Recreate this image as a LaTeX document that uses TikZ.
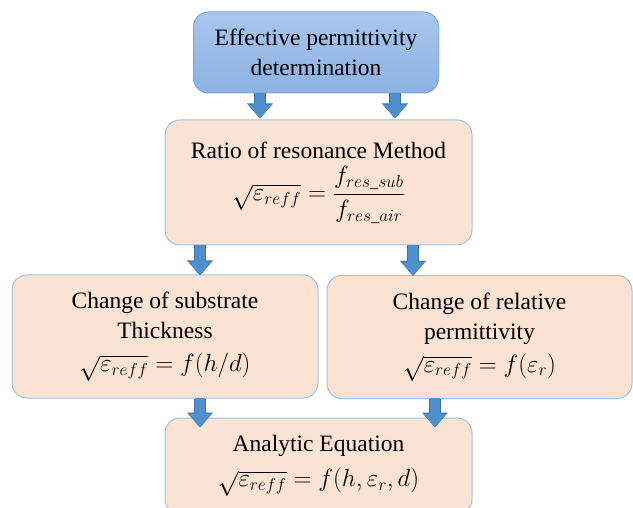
\documentclass[tikz,border=0pt]{standalone}
\usepackage{amsmath}
\usepackage{fontspec}
\setmainfont{Liberation Serif}
\usetikzlibrary{arrows.meta,calc}
\definecolor{peachfill}{HTML}{FBE3D4}
\definecolor{boxline}{HTML}{9DC3E6}
\definecolor{bluetop}{HTML}{A9C6EE}
\definecolor{bluebot}{HTML}{8CB2E2}
\definecolor{blueline}{HTML}{7EA6D9}
\definecolor{arrowfill}{HTML}{4E8FD0}
\definecolor{arrowline}{HTML}{41719C}
\tikzset{
  basebox/.style={rounded corners=15pt, line width=1pt, align=center, inner sep=0pt,
    font=\fontsize{23.5}{30}\selectfont},
  bluebox/.style={basebox, draw=blueline, top color=bluetop, bottom color=bluebot},
  peachbox/.style={basebox, draw=boxline, fill=peachfill},
  blockarrowout/.style={line width=11.5pt, arrowline, -{Triangle[width=25pt,length=15pt]}},
  blockarrow/.style={line width=10pt, arrowfill, -{Triangle[width=23pt,length=14pt]}},
}
\begin{document}
\begin{tikzpicture}[x=1pt,y=-1pt]
\useasboundingbox (0,0) rectangle (633,508);
\clip (0,0) rectangle (633,508);
\node[bluebox, minimum width=245pt, minimum height=81pt] (top) at (316,52.5)
  {Effective permittivity\\determination};
\node[peachbox, minimum width=307pt, minimum height=125pt] (ratio) at (318.5,182.5)
  {Ratio of resonance Method\\[7pt]
   $\sqrt{\varepsilon_{reff}}=\dfrac{f_{res\_sub}}{f_{res\_air}}$};
\node[peachbox, minimum width=306pt, minimum height=123pt] (thick) at (165,336.5)
  {Change of substrate\\Thickness\\[3pt]
   $\sqrt{\varepsilon_{reff}}=f(h/d)$};
\node[peachbox, minimum width=305pt, minimum height=123pt] (perm) at (479.5,337)
  {Change of relative\\permittivity\\[3pt]
   $\sqrt{\varepsilon_{reff}}=f(\varepsilon_r)$};
\node[peachbox, minimum width=307pt, minimum height=96pt] (anal) at (318.5,466)
  {Analytic Equation\\[5pt]
   $\sqrt{\varepsilon_{reff}}=f(h,\varepsilon_r,d)$};
% arrow start coordinates
\coordinate (a1) at ([xshift=-56pt]top.south);
\coordinate (a2) at ([xshift=79pt]top.south);
\coordinate (b1) at ([xshift=-118.5pt]ratio.south);
\coordinate (b2) at ([xshift=94.5pt]ratio.south);
\coordinate (c1) at ([xshift=35pt]thick.south);
\coordinate (c2) at ([xshift=-44.5pt]perm.south);
\foreach \s/\t/\e in {a1/ratio/1, a2/ratio/1, b1/thick/-1, b2/perm/-1, c1/anal/-10, c2/anal/-10}{
  \draw[blockarrowout, shorten >=\e pt] (\s) -- (\s |- \t.north);
  \draw[blockarrow, shorten >=\e pt] ([yshift=0.6pt]\s) -- (\s |- \t.north);
}
\end{tikzpicture}
\end{document}
